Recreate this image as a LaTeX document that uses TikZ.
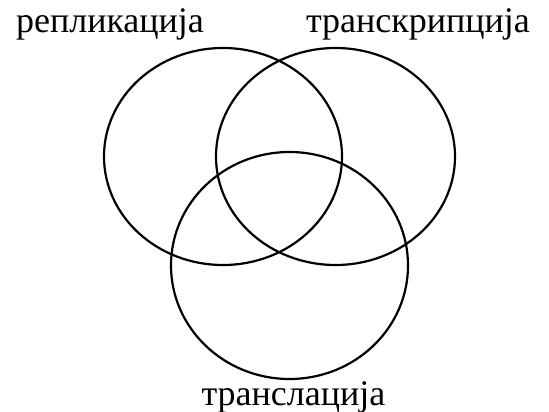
\documentclass[tikz,border=0pt]{standalone}
\usepackage{fontspec}
\setmainfont{Liberation Serif}
\begin{document}
\begin{tikzpicture}[x=1pt, y=-1pt,
    krug/.style={line width=2.2pt, black},
    oznaka/.style={anchor=base, inner sep=0pt, font=\fontsize{36}{40}\selectfont}]
    \useasboundingbox (0,0) rectangle (549,412);
    % Središta krugova
    \coordinate (R) at (223,156.5);
    \coordinate (K) at (335.5,156.5);
    \coordinate (L) at (289.5,265.5);
    
    % Tri kruga
    \draw[krug] (R) ellipse [x radius=119, y radius=108.5];
    \draw[krug] (K) ellipse [x radius=119.5, y radius=108.5];
    \draw[krug] (L) ellipse [x radius=118.5, y radius=113.5];
    
    % Natpisi
    \node[oznaka] (rep) at (110,33) {репликација};
    \node[oznaka] (trs) at (418,33) {транскрипција};
    \node[oznaka] (trl) at (293.5,405) {транслација};
\end{tikzpicture}
\end{document}
